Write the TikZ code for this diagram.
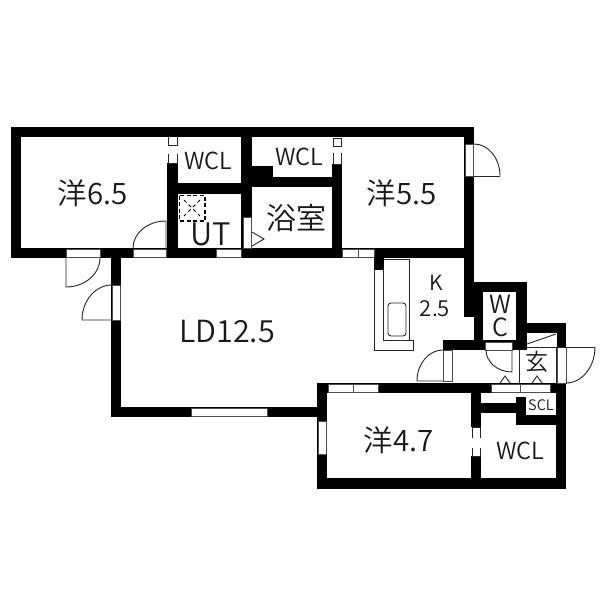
\documentclass[tikz,border=0pt]{standalone}
\usepackage{fontspec}
\setmainfont{Noto Sans CJK JP DemiLight}
\tikzset{
  wall/.style={fill=black,draw=none},
  win/.style={fill=white,draw=black!70,line width=0.7pt},
  thin/.style={draw=black!85,line width=0.9pt},
  lbl/.style={inner sep=0pt,text=black!90},
}
\begin{document}
\begin{tikzpicture}[x=1pt,y=-1pt]
\useasboundingbox (0,0) rectangle (600,600);
\fill[white] (0,0) rectangle (600,600);
% walls
\fill[wall] (11,127) rectangle (474,137);
\fill[wall] (11,127) rectangle (21,258);
\fill[wall] (11,248) rectangle (384,258);
\fill[wall] (374,248) rectangle (474,258);
\fill[wall] (167,127) rectangle (178,258);
\fill[wall] (178,183) rectangle (252,194);
\fill[wall] (241,127) rectangle (252,258);
\fill[wall] (252,177) rectangle (342,187);
\fill[wall] (252,166) rectangle (273,177);
\fill[wall] (332,127) rectangle (342,258);
\fill[wall] (464,127) rectangle (474,317);
\fill[wall] (374,258) rectangle (384,270);
\fill[wall] (111,258) rectangle (121,417);
\fill[wall] (111,407) rectangle (327,417);
\fill[wall] (317,383) rectangle (327,489);
\fill[wall] (317,383) rectangle (566,393);
\fill[wall] (317,478) rectangle (566,489);
\fill[wall] (556,383) rectangle (566,489);
\fill[wall] (557,323) rectangle (566,347);
\fill[wall] (471,393) rectangle (481,478);
\fill[wall] (481,403) rectangle (526,413);
\fill[wall] (516,397) rectangle (526,425);
\fill[wall] (516,415) rectangle (566,425);
\fill[wall] (474,282) rectangle (527,292);
\fill[wall] (474,282) rectangle (483,350);
\fill[wall] (516,282) rectangle (527,350);
\fill[wall] (516,323) rectangle (566,333);
\fill[wall] (443,340) rectangle (527,350);
% windows and openings
\draw[win] (66,249) rectangle (100,257);
\draw[win] (133,249) rectangle (166,257);
\draw[win] (216,249) rectangle (241,257);
\draw[win] (243,217) rectangle (251,248);
\draw[win] (342,249) rectangle (358,257);
\draw[win] (358,249) rectangle (374,257);
\draw[win] (465,144) rectangle (473,176);
\draw[win] (112,285) rectangle (120,320);
\draw[win] (191,408) rectangle (267,416);
\draw[win] (318,421) rectangle (326,454);
\draw[win] (328,384) rectangle (353,392);
\draw[win] (353,384) rectangle (378,392);
\draw[win] (491,384) rectangle (520,392);
\draw[win] (520,384) rectangle (550,392);
\draw[win] (485,342) rectangle (512,350);
\draw[win] (557,347) rectangle (566,383);
\draw[win] (443,350) rectangle (452,381);
% sliding closet doors
\fill[white] (166,137) rectangle (179,163);
\draw[thin] (168,137) -- (168,145) -- (177,145) -- (177,137);
\draw[thin] (168,154) -- (168,163) -- (177,163) -- (177,154);
\fill[white] (331,137) rectangle (343,164);
\draw[thin] (333,138) -- (333,146) -- (341,146) -- (341,138) -- cycle;
\draw[thin] (333,153) -- (333,164) -- (341,164) -- (341,153);
\fill[white] (470,427) rectangle (482,456);
\draw[thin] (472,438) -- (472,427) -- (480,427) -- (480,438);
\draw[thin] (472,448) -- (472,456) -- (480,456) -- (480,448);
% doors
\draw[thin] (66,258) -- (66,287) arc[start angle=90,end angle=0,x radius=34,y radius=29];
\draw[thin] (133,248) arc[start angle=180,end angle=270,x radius=33,y radius=27] -- (166,248);
\draw[thin] (112,320) -- (82,320) arc[start angle=180,end angle=270,x radius=30,y radius=35];
\draw[thin] (474,144) arc[start angle=270,end angle=360,x radius=26,y radius=32];
\draw[thin] (474,176) -- (500,176);
\draw[thin] (443,350) arc[start angle=270,end angle=180,x radius=26,y radius=31] -- (443,381);
\draw[thin] (486,350) arc[start angle=180,end angle=90,x radius=26,y radius=22] -- (512,350);
\draw[thin] (519,350) -- (519,384);
\draw[thin] (527,347) -- (595,347);
\draw[thin] (527,344) -- (556,334);
\draw[thin] (556,347) -- (556,383);
\draw[thin] (595,347) arc[start angle=0,end angle=90,x radius=29,y radius=36];
% kitchen
\draw[thin] (384,259) -- (409,259) -- (409,340);
\draw[thin] (374,270) -- (374,350) -- (413,350) -- (413,340) -- (383,340) -- (383,270);
\draw[thin,rounded corners=3pt] (388,303) rectangle (406,336);
% fixtures
\draw[black,line width=1.4pt,dash pattern=on 4pt off 2.5pt] (179.5,195.5) rectangle (205,221);
\draw[black,line width=0.8pt,dash pattern=on 3.5pt off 3pt] (184,200) -- (200,216) (200,200) -- (184,216);
\draw[thin] (252,232) -- (264,239) -- (252,246);
\draw[thin] (500,383) -- (505,376) -- (510,383);
\draw[thin] (532,383) -- (537,376) -- (542,383);
% labels
\node[lbl,font=\fontsize{29.5}{30}\selectfont] (r1) at (92.5,193) {洋6.5};
\node[lbl,font=\fontsize{29.5}{30}\selectfont] (r2) at (401.5,193) {洋5.5};
\node[lbl,font=\fontsize{29.5}{30}\selectfont] (r3) at (398.5,440) {洋4.7};
\node[lbl,font=\fontsize{30.5}{31}\selectfont] (ld) at (227,332) {LD12.5};
\node[lbl,font=\fontsize{23.5}{24}\selectfont] (w1) at (208.5,161) {WCL};
\node[lbl,font=\fontsize{23.5}{24}\selectfont] (w2) at (299,156.5) {WCL};
\node[lbl,font=\fontsize{23.5}{24}\selectfont] (w3) at (520,451) {WCL};
\node[lbl,font=\fontsize{31}{31}\selectfont] (ut) at (211,234.5) {UT};
\node[lbl,font=\fontsize{30}{30}\selectfont] (bath) at (296,218) {浴室};
\node[lbl,font=\fontsize{21}{21}\selectfont] (k) at (436,283) {K};
\node[lbl,font=\fontsize{22}{22}\selectfont] (k2) at (435,309) {2.5};
\node[lbl,font=\fontsize{25}{25}\selectfont] (wc1) at (500,304) {W};
\node[lbl,font=\fontsize{25}{25}\selectfont] (wc2) at (500,327) {C};
\node[lbl,font=\fontsize{23}{23}\selectfont] (gen) at (537,362) {玄};
\node[lbl,font=\fontsize{14.5}{15}\selectfont] (scl) at (541,405) {SCL};
\end{tikzpicture}
\end{document}
